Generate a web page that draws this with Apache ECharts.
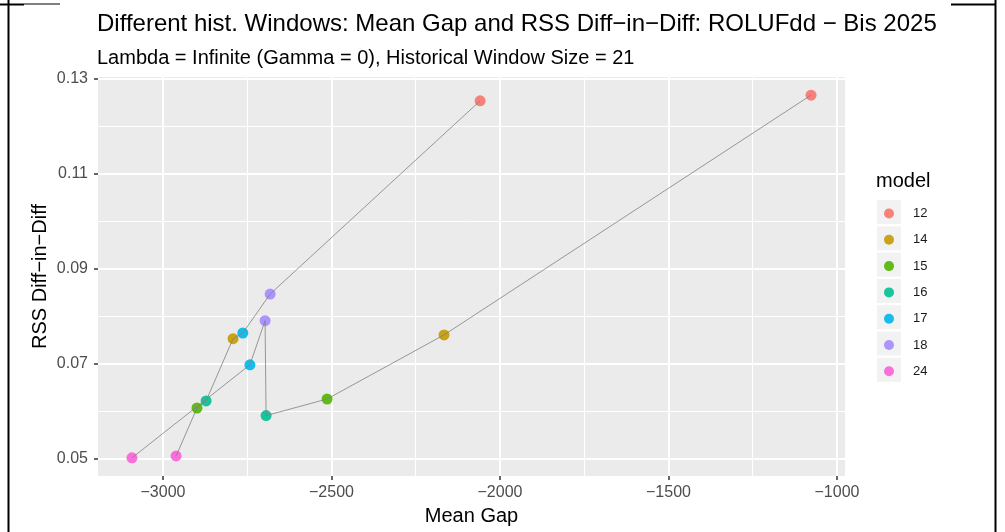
<!DOCTYPE html>
<html>
<head>
<meta charset="utf-8">
<script src="https://cdn.jsdelivr.net/npm/echarts@6/dist/echarts.min.js"></script>
<style>
  html, body { margin: 0; padding: 0; background: #fff; }
  #chart { width: 1005px; height: 532px; }
</style>
</head>
<body>
<div id="chart"></div>
<script>
// models and the two historical windows
const models = ['12', '14', '15', '16', '17', '18', '24'];
const modelColors = ['#F8766D', '#C49A00', '#53B400', '#00C094', '#00B6EB', '#A58AFF', '#FB61D7'];
const meanGapA = [-1077, -2166, -2513, -2694, -2742, -2697, -3092];
const rssA = [0.1266, 0.0761, 0.0626, 0.0591, 0.0698, 0.0791, 0.0502];
const meanGapB = [-2059, -2792, -2899, -2872, -2763, -2682, -2961];
const rssB = [0.1254, 0.0753, 0.0607, 0.0622, 0.0765, 0.0847, 0.0506];

const xTicks = [-3000, -2500, -2000, -1500, -1000];
const xMinor = [-2750, -2250, -1750, -1250];
const yTicks = [0.05, 0.07, 0.09, 0.11, 0.13];
const yMinor = [0.06, 0.08, 0.10, 0.12];

// ggplot style limits: data range expanded by 5% on each side
function expand(a) {
	let lo = Math.min.apply(null, a), hi = Math.max.apply(null, a);
	let pad = (hi - lo) * 0.05;
	return [lo - pad, hi + pad];
}
const xLim = expand(meanGapA.concat(meanGapB));
const yLim = expand(rssA.concat(rssB));

function pathSorted(xs, ys) {
	let pts = xs.map(function (x, i) { return [x, ys[i]]; });
	pts.sort(function (a, b) { return a[0] - b[0]; });
	return pts;
}

const font = 'Liberation Sans, Arial, sans-serif';
const minus = function (v) { return String(v).replace('-', '\u2212'); };

let seriesList = [];
models.forEach(function (m, i) {
	seriesList.push({
		name: m,
		type: 'scatter',
		symbol: 'circle',
		symbolSize: 11,
		itemStyle: { color: modelColors[i], opacity: 0.9 },
		z: 2,
		data: [[meanGapA[i], rssA[i]], [meanGapB[i], rssB[i]]]
	});
});
[pathSorted(meanGapA, rssA), pathSorted(meanGapB, rssB)].forEach(function (pts) {
	seriesList.push({
		type: 'line',
		symbol: 'none',
		silent: true,
		z: 3,
		lineStyle: { color: '#808080', width: 0.8 },
		data: pts
	});
});

let chart = echarts.init(document.getElementById('chart'), null, { renderer: 'canvas' });

let firstKey = 212, legendStep = 26.3, legendItemH = 13;
let keyBoxes = models.map(function (m, i) {
	return {
		type: 'rect',
		left: 877,
		top: firstKey - 12 + i * legendStep,
		shape: { width: 24, height: 24 },
		style: { fill: '#F2F2F2' },
		z: 0
	};
});

chart.setOption({
	animation: false,
	textStyle: { fontFamily: font },
	title: [
		{
			text: 'Different hist. Windows: Mean Gap and RSS Diff\u2212in\u2212Diff: ROLUFdd \u2212 Bis 2025',
			left: 97, top: 12, padding: 0,
			textStyle: { fontFamily: font, fontSize: 24, fontWeight: 'normal', color: '#000' }
		},
		{
			text: 'Lambda = Infinite (Gamma = 0), Historical Window Size = 21',
			left: 97, top: 48, padding: 0,
			textStyle: { fontFamily: font, fontSize: 20, fontWeight: 'normal', color: '#000' }
		}
	],
	legend: {
		orient: 'vertical',
		left: 884, top: firstKey - legendItemH / 2 + 1.5, padding: 0,
		itemWidth: 10, itemHeight: 10,
		itemGap: legendStep - legendItemH,
		selectedMode: false,
		formatter: function (name) { return '{gap|}' + name; },
		textStyle: {
			fontFamily: font, fontSize: 13, color: '#1a1a1a',
			rich: { gap: { width: 14 } }
		},
		data: models
	},
	grid: {
		left: 98, right: 160, top: 77, bottom: 56,
		show: true, backgroundColor: '#EBEBEB', borderWidth: 0
	},
	xAxis: [
		{
			type: 'value', min: xLim[0], max: xLim[1],
			name: 'Mean Gap', nameLocation: 'middle', nameGap: 30, nameMoveOverlap: false,
			nameTextStyle: { fontFamily: font, fontSize: 20, color: '#000' },
			axisLine: { show: false },
			axisTick: { show: true, length: 4, customValues: xTicks, lineStyle: { color: '#333', width: 1.5 } },
			axisLabel: { customValues: xTicks, margin: 9, fontSize: 16, color: '#4D4D4D', formatter: minus },
			splitLine: { show: true, lineStyle: { color: '#fff', width: 2 } }
		},
		{
			type: 'value', min: xLim[0], max: xLim[1], position: 'bottom',
			axisLine: { show: false },
			axisTick: { show: false, customValues: xMinor },
			axisLabel: { show: false },
			splitLine: { show: true, lineStyle: { color: '#fff', width: 1 } }
		}
	],
	yAxis: [
		{
			type: 'value', min: yLim[0], max: yLim[1],
			name: 'RSS Diff\u2212in\u2212Diff', nameLocation: 'middle', nameGap: 48, nameMoveOverlap: false,
			nameTextStyle: { fontFamily: font, fontSize: 20, color: '#000' },
			axisLine: { show: false },
			axisTick: { show: true, length: 4, customValues: yTicks, lineStyle: { color: '#333', width: 1.5 } },
			axisLabel: { customValues: yTicks, margin: 10, fontSize: 16, color: '#4D4D4D', formatter: function (v) { return v.toFixed(2); } },
			splitLine: { show: true, lineStyle: { color: '#fff', width: 2 } }
		},
		{
			type: 'value', min: yLim[0], max: yLim[1], position: 'left',
			axisLine: { show: false },
			axisTick: { show: false, customValues: yMinor },
			axisLabel: { show: false },
			splitLine: { show: true, lineStyle: { color: '#fff', width: 1 } }
		}
	],
	graphic: keyBoxes.concat([
		{
			type: 'text', left: 876, top: 171,
			style: { text: 'model', font: '20px ' + font, fill: '#000' }
		},
		// frame lines around the picture
		{ type: 'line', shape: { x1: 8.5, y1: 0, x2: 8.5, y2: 532 }, style: { stroke: '#000', lineWidth: 2 } },
		{ type: 'line', shape: { x1: 995.5, y1: 0, x2: 995.5, y2: 532 }, style: { stroke: '#000', lineWidth: 2 } },
		{ type: 'line', shape: { x1: 0, y1: 4.5, x2: 24, y2: 4.5 }, style: { stroke: '#000', lineWidth: 2 } },
		{ type: 'line', shape: { x1: 24, y1: 4, x2: 60, y2: 4 }, style: { stroke: '#000', lineWidth: 1 } },
		{ type: 'line', shape: { x1: 951, y1: 4.5, x2: 996, y2: 4.5 }, style: { stroke: '#000', lineWidth: 2 } }
	]),
	series: seriesList
});
</script>
</body>
</html>
